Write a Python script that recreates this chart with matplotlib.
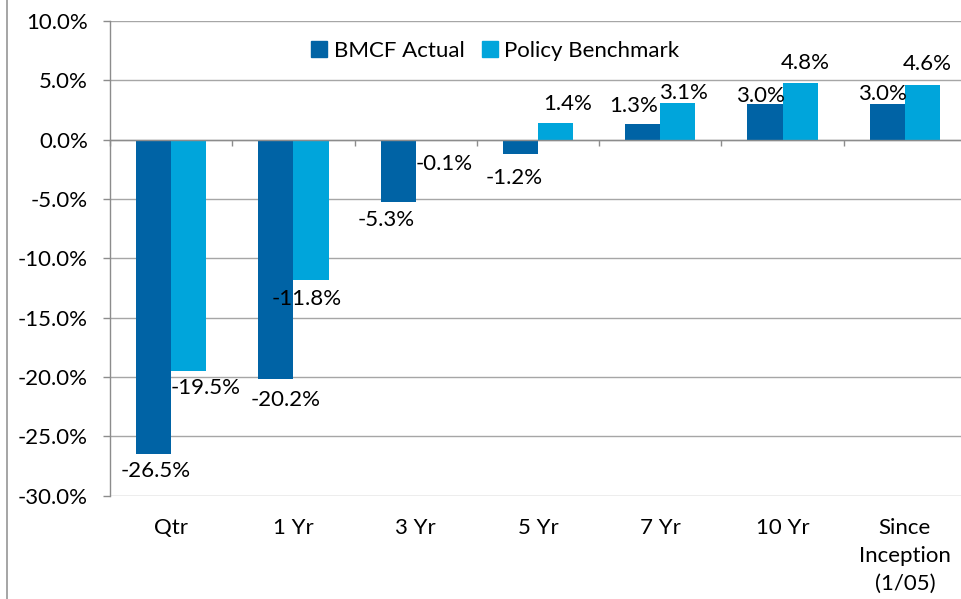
import numpy as np
import matplotlib.pyplot as plt
from matplotlib.patches import Patch
from matplotlib.lines import Line2D

plt.rcParams['font.family'] = ['Lato', 'DejaVu Sans']

categories = ['Qtr', '1 Yr', '3 Yr', '5 Yr', '7 Yr', '10 Yr', 'Since\nInception\n(1/05)']
bmcf_actual = [-26.5, -20.2, -5.3, -1.2, 1.3, 3.0, 3.0]
policy_bench = [-19.5, -11.8, -0.1, 1.4, 3.1, 4.8, 4.6]

# label nudges (pixels, x right / y down) relative to the bar end
actual_offs = [(2, 17), (10, 21), (-12, 18), (-6, 24), (-9, -18), (-5, -8), (-5, -10)]
bench_offs = [(17, 17), (-4, 19), (11, 23), (12, -19), (6, -10), (5, -20), (5, -21)]

dark = '#0063A5'
light = '#00A5DB'
grid_col = '#A6A6A6'
fs = 16

W, H = 962, 599
fig = plt.figure(figsize=(W / 100, H / 100), dpi=100)
ax = fig.add_axes([110 / W, 1 - 495.5 / H, 856 / W, 474.5 / H])

x = np.arange(len(categories))
bw = 0.287
b1 = ax.bar(x - bw / 2, bmcf_actual, bw, color=dark, zorder=3)
b2 = ax.bar(x + bw / 2, policy_bench, bw, color=light, zorder=3)

px2pt = 72 / 100
for bars, vals, offs in [(b1, bmcf_actual, actual_offs), (b2, policy_bench, bench_offs)]:
    for rect, v, (dx, dy) in zip(bars, vals, offs):
        xc = rect.get_x() + rect.get_width() / 2
        ax.annotate('{:.1f}%'.format(v), (xc, v), xytext=(dx * px2pt, -dy * px2pt),
                    textcoords='offset points', ha='center', va='center',
                    fontsize=fs, color='black', zorder=5)

ax.set_xlim(-0.5, len(categories) - 0.5)
ax.set_ylim(-30, 10)
ax.set_yticks(np.arange(-30, 11, 5))
ax.set_yticklabels(['{:.1f}%'.format(v) for v in np.arange(-30, 11, 5)], fontsize=fs)
ax.yaxis.grid(True, color=grid_col, lw=1.0)
ax.set_axisbelow(True)

for s in ['top', 'right']:
    ax.spines[s].set_visible(False)
ax.spines['bottom'].set_position(('data', 0))
ax.spines['bottom'].set_color('#8C8C8C')
ax.spines['bottom'].set_linewidth(1.0)
ax.spines['left'].set_color('#8C8C8C')
ax.spines['left'].set_linewidth(1.0)
ax.spines['bottom'].set_zorder(4)

ax.tick_params(axis='y', length=5, width=1.0, color='#8C8C8C', pad=11)
ax.set_xticks(x)
ax.tick_params(axis='x', which='major', length=0, labelbottom=False)
ax.set_xticks(np.arange(len(categories) + 1) - 0.5, minor=True)
ax.tick_params(axis='x', which='minor', length=4.5, width=1.0, color='#8C8C8C', direction='out')

for i, lab in enumerate(categories):
    ax.text(i, -31.9, lab, ha='center', va='top', fontsize=fs, linespacing=1.5,
            transform=ax.transData, clip_on=False)

handles = [Patch(color=dark), Patch(color=light)]
fig.legend(handles, ['BMCF Actual', 'Policy Benchmark'], loc='center',
           bbox_to_anchor=(495.5 / W, 1 - 51 / H), ncol=2, frameon=False,
           fontsize=fs, handlelength=0.7, handleheight=0.7,
           handletextpad=0.3, columnspacing=0.8)

fig.add_artist(Line2D([7.5 / W, 7.5 / W], [0, 1], color='#969696', lw=1.2,
                      transform=fig.transFigure))

fig.savefig('out.png', dpi=100, facecolor='white')
